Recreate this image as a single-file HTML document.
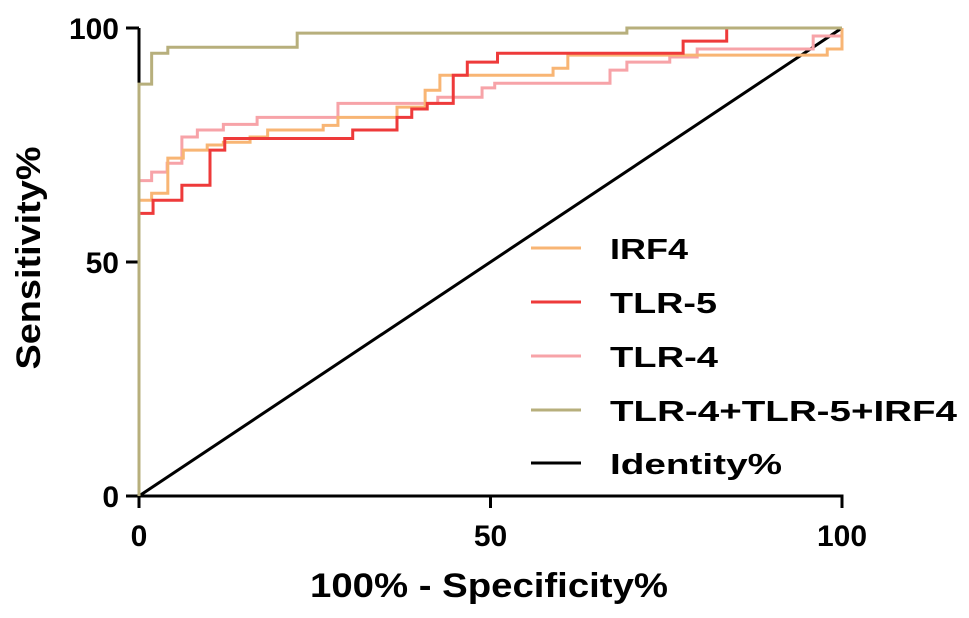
<!DOCTYPE html>
<html><head><meta charset="utf-8"><style>
html,body{margin:0;padding:0;background:#fff;}
svg{display:block;font-family:"Liberation Sans",Arial,sans-serif;font-weight:bold;}
</style></head><body>
<svg id="chart" width="969" height="618" viewBox="0 0 969 618" xmlns="http://www.w3.org/2000/svg"></svg>
<script>
const xTicks = [0, 50, 100];
const yTicks = [0, 50, 100];
const seriesNames = ["IRF4", "TLR-5", "TLR-4", "TLR-4+TLR-5+IRF4", "Identity%"];
const irf4Fpr = [0, 0, 1.8, 4.1, 6.3, 9.7, 12, 15.8, 18.3, 26.2, 28.3, 36.7, 40.7, 42.8, 58.9, 61, 97.9, 100];
const irf4Tpr = [0, 63.2, 64.7, 72.2, 73.9, 75, 75.6, 76.7, 78.2, 79.2, 80.9, 83.1, 86.7, 89.9, 91.4, 94.2, 95.5, 100];
const tlr5Fpr = [0, 0, 2, 6.1, 10.1, 12.2, 30.4, 36.7, 38.8, 41, 44.7, 46.7, 51, 77.4, 83.6, 100];
const tlr5Tpr = [0, 60.4, 63.2, 66.4, 73.9, 76.4, 78.2, 80.9, 82.7, 83.9, 89.9, 92.7, 94.6, 97.2, 100, 100];
const tlr4Fpr = [0, 0, 1.8, 4, 6.1, 8.3, 12, 16.8, 28.3, 42.5, 48.8, 50.6, 67, 69.4, 75.5, 79.4, 95.9, 100];
const tlr4Tpr = [0, 67.4, 69.2, 71.1, 76.7, 78.2, 79.4, 80.9, 83.9, 85.2, 87.2, 88.2, 91, 92.7, 93.8, 95.5, 98.3, 100];
const combFpr = [0, 0, 1.8, 4.1, 22.5, 69.4, 100];
const combTpr = [0, 88, 94.6, 95.9, 98.9, 100, 100];
const identFpr = [0, 100];
const identTpr = [0, 100];

const NS = "http://www.w3.org/2000/svg";
const svg = document.getElementById("chart");
const X0 = 139, X1 = 842, Y0 = 496, Y1 = 28;
function xs(v){ return X0 + (X1 - X0) * v / 100; }
function ys(v){ return Y0 - (Y0 - Y1) * v / 100; }
function mk(tag, attrs, parent){
  const e = document.createElementNS(NS, tag);
  for (const k in attrs) e.setAttribute(k, attrs[k]);
  (parent || svg).appendChild(e);
  return e;
}

const axes = mk("g", {});


const yAxis = mk("line", {x1: X0, y1: Y1, x2: X0, y2: Y0, stroke: "#000", "stroke-width": 3}, axes);


const xAxis = mk("line", {x1: X0, y1: Y0, x2: X1 + 1.5, y2: Y0, stroke: "#000", "stroke-width": 3}, axes);



xTicks.forEach(t => {
  const tk = mk("line", {x1: xs(t), y1: Y0, x2: xs(t), y2: Y0 + 12, stroke: "#000", "stroke-width": 3}, axes);
  
  
  const lb = mk("text", {x: xs(t), y: Y0 + 50, "text-anchor": "middle", "font-size": 30, fill: "#000"}, axes);
  lb.textContent = t;
  
  
});
yTicks.forEach(t => {
  const tk = mk("line", {x1: X0 - 13, y1: ys(t), x2: X0, y2: ys(t), stroke: "#000", "stroke-width": 3}, axes);
  
  
  const lb = mk("text", {x: X0 - 20, y: ys(t) + 11, "text-anchor": "end", "font-size": 30, fill: "#000"}, axes);
  lb.textContent = t;
  
  
});

const xt = mk("text", {x: 489, y: 597, "text-anchor": "middle", "font-size": 34, fill: "#000", textLength: 358, lengthAdjust: "spacingAndGlyphs"});
xt.textContent = "100% - Specificity%";


const yt = mk("text", {x: 0, y: 0, "text-anchor": "middle", "font-size": 34, fill: "#000", textLength: 223, lengthAdjust: "spacingAndGlyphs", transform: "translate(40,258) rotate(-90)"});
yt.textContent = "Sensitivity%";



function stepPath(fx, ty){
  let d = "M" + xs(fx[0]) + "," + ys(ty[0]);
  for (let i = 1; i < fx.length; i++){
    d += " H" + xs(fx[i]) + " V" + ys(ty[i]);
  }
  return d;
}
const colors = ["#F8B574", "#EE3A3A", "#F7A3A8", "#B7AF7C", "#000"];

const ident = mk("line", {x1: xs(identFpr[0]), y1: ys(identTpr[0]), x2: xs(identFpr[1]), y2: ys(identTpr[1]), stroke: "#000", "stroke-width": 3});



const series = [[irf4Fpr, irf4Tpr], [tlr5Fpr, tlr5Tpr], [tlr4Fpr, tlr4Tpr], [combFpr, combTpr]];
const sNames = ["irf4-curve", "tlr5-curve", "tlr4-curve", "combined-curve"];
[2, 0, 1, 3].forEach(i => {
  const p = mk("path", {d: stepPath(series[i][0], series[i][1]), fill: "none", stroke: colors[i], "stroke-width": 3});
  
  
});

const lg = mk("g", {});


const rowsY = [248, 302, 356, 410, 463];
const textLens = [78, 107, 108, 347, 172];
seriesNames.forEach((n, i) => {
  const g = mk("g", {}, lg);
  
  
  mk("line", {x1: 531, y1: rowsY[i], x2: 581, y2: rowsY[i], stroke: colors[i], "stroke-width": 3}, g);
  const t = mk("text", {x: 610, y: rowsY[i] + 11, "font-size": 29, fill: "#000", textLength: textLens[i], lengthAdjust: "spacingAndGlyphs"}, g);
  t.textContent = n;
});
</script>
</body></html>
